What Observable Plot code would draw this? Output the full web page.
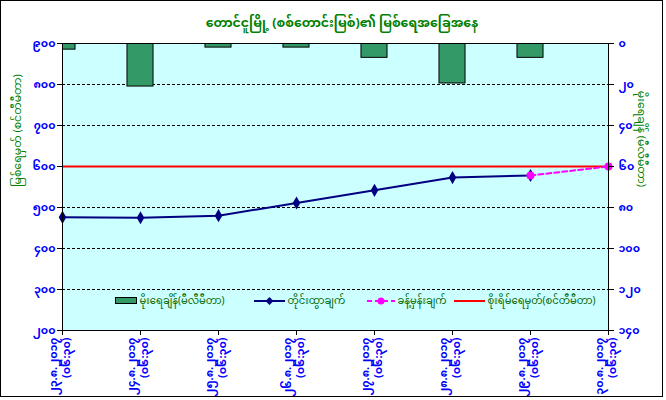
<!DOCTYPE html>
<html><head><meta charset="utf-8">
<script src="https://cdn.jsdelivr.net/npm/d3@7"></script>
<script src="https://cdn.jsdelivr.net/npm/@observablehq/plot@0.6"></script>
<style>
body{margin:0;background:#fff;}
#wrap{position:relative;width:666px;height:400px;overflow:hidden;font-family:"Noto Sans Myanmar","Padauk","Myanmar Text","Noto Sans",sans-serif;}
#wrap svg{position:absolute;left:0;top:0;}
#border{position:absolute;left:0;top:0;width:661px;height:395px;border:1px solid #000;pointer-events:none;}
#title{position:absolute;top:10px;left:0;width:684px;text-align:center;color:#008000;font-weight:bold;font-size:12.5px;}
.lg{position:absolute;top:294px;font-size:10px;color:#006600;white-space:nowrap;line-height:16px;}
.lg svg{position:static !important;vertical-align:middle;}
</style></head>
<body>
<div id="wrap"><div id="border"></div></div>
<script>
const dateLabels = ["၂၃.၈.၂၀၁၇","၂၄.၈.၂၀၁၇","၂၅.၈.၂၀၁၇","၂၆.၈.၂၀၁၇","၂၇.၈.၂၀၁၇","၂၈.၈.၂၀၁၇","၂၉.၈.၂၀၁၇","၃၀.၈.၂၀၁၇"];
const timeLabels = ["(၀၆:၃၀)","(၀၆:၃၀)","(၀၆:၃၀)","(၀၆:၃၀)","(၀၆:၃၀)","(၀၆:၃၀)","(၀၆:၃၀)","(၀၆:၃၀)"];
const rainfall = [3, 21, 2, 2, 7, 19.5, 7];
const observed = [476, 475, 480, 511, 542, 573, 578];
const forecastIdx = [6, 7];
const forecast = [578, 600];
const dangerLevel = 600;
const levelTicks = [200, 300, 400, 500, 600, 700, 800, 900];
const levelTickLabels = ["၂၀၀","၃၀၀","၄၀၀","၅၀၀","၆၀၀","၇၀၀","၈၀၀","၉၀၀"];
const rainTickLabels = ["၁၄၀","၁၂၀","၁၀၀","၈၀","၆၀","၄၀","၂၀","၀"];
const titleText = "တောင်ငူမြို့ (စစ်တောင်းမြစ်)၏ မြစ်ရေအခြေအနေ";
const leftTitle = "မြစ်ရေမှတ် (စင်တီမီတာ)";
const rightTitle = "မိုးရေချိန် (မီလီမီတာ)";
const legendLabels = ["မိုးရေချိန်(မီလီမီတာ)","တိုင်းထွာချက်","ခန့်မှန်းချက်","စိုးရိမ်ရေမှတ်(စင်တီမီတာ)"];

const font = '"Noto Sans Myanmar","Padauk","Myanmar Text","Noto Sans",sans-serif';
const lvTop = 900, lvBottom = 200, rainMax = 140;
const rainToLevel = r => lvTop - r * (lvTop - lvBottom) / rainMax;

const obsData = observed.map((v, i) => ({i, v}));
const fcData = forecast.map((v, k) => ({i: forecastIdx[k], v}));
const rainData = rainfall.map((r, i) => ({i, r}));
const idx = d3.range(dateLabels.length);
const half = 0.167;

const chart = Plot.plot({
  width: 666, height: 400,
  marginLeft: 62, marginRight: 58, marginTop: 43, marginBottom: 70,
  style: {background: "transparent", fontFamily: font},
  x: {type: "linear", domain: [0, dateLabels.length - 1]},
  y: {domain: [lvBottom, lvTop]},
  marks: [
    Plot.frame({fill: "#ccffff", stroke: null}),
    Plot.ruleY(levelTicks.filter(v => v > lvBottom && v < lvTop), {stroke: "#000", strokeDasharray: "3,2", strokeWidth: 1}),
    Plot.rectY(rainData, {x1: d => d.i - half, x2: d => d.i + half, y1: lvTop, y2: d => rainToLevel(d.r), fill: "#339966", stroke: "#000", strokeWidth: 1, clip: true}),
    Plot.ruleY([dangerLevel], {stroke: "#ff0000", strokeWidth: 2}),
    Plot.line(obsData, {x: "i", y: "v", stroke: "#000080", strokeWidth: 2}),
    Plot.dot(obsData, {x: "i", y: "v", symbol: "diamond", fill: "#000080", r: 4}),
    Plot.line(fcData, {x: "i", y: "v", stroke: "#ff00ff", strokeWidth: 2, strokeDasharray: "5,3"}),
    Plot.dot(fcData, {x: "i", y: "v", fill: "#ff00ff", r: 4, clip: false}),
    Plot.frame({stroke: "#000", strokeWidth: 1}),
    Plot.axisY({anchor: "left", ticks: levelTicks, tickFormat: (d) => levelTickLabels[levelTicks.indexOf(d)], tickSize: 5, tickPadding: 2, stroke: "#000", fill: "#0000ff", fontSize: 11, fontWeight: "bold", label: null}),
    Plot.axisY({anchor: "right", ticks: levelTicks, tickFormat: (d) => rainTickLabels[levelTicks.indexOf(d)], tickSize: 5, tickPadding: 5, stroke: "#000", fill: "#0000ff", fontSize: 11, fontWeight: "bold", label: null}),
    Plot.axisX({ticks: idx, tickFormat: () => "", tickSize: 5, stroke: "#000", label: null}),
    Plot.text(idx, {x: d => d, text: i => dateLabels[i], frameAnchor: "bottom", dx: -6, dy: 7, rotate: -90, textAnchor: "end", fill: "#0000ff", fontSize: 11, fontWeight: "bold"}),
    Plot.text(idx, {x: d => d, text: i => timeLabels[i], frameAnchor: "bottom", dx: 7, dy: 7, rotate: -90, textAnchor: "end", fill: "#0000ff", fontSize: 11, fontWeight: "bold"}),
    Plot.text([leftTitle], {frameAnchor: "left", dx: -45, rotate: -90, fill: "#008000", fontSize: 11}),
    Plot.text([rightTitle], {frameAnchor: "right", dx: 33, rotate: 90, fill: "#008000", fontSize: 11})
  ]
});
const wrap = document.getElementById("wrap");
wrap.insertBefore(chart, wrap.firstChild);

const t = document.createElement("div");
t.id = "title"; t.textContent = titleText; wrap.appendChild(t);

const sw = [
  '<svg width="22" height="8"><rect x="0.5" y="0.5" width="21" height="6" fill="#339966" stroke="#000"/></svg>',
  '<svg width="31" height="10"><line x1="0" y1="5" x2="31" y2="5" stroke="#000080" stroke-width="2"/><path d="M15.5 1 L19.5 5 L15.5 9 L11.5 5Z" fill="#000080"/></svg>',
  '<svg width="28" height="10"><line x1="0" y1="5" x2="28" y2="5" stroke="#ff00ff" stroke-width="2" stroke-dasharray="5,3"/><circle cx="14" cy="5" r="3.5" fill="#ff00ff"/></svg>',
  '<svg width="31" height="10"><line x1="0" y1="5" x2="31" y2="5" stroke="#ff0000" stroke-width="2"/></svg>'
];
const lefts = [115, 254, 367, 454];
legendLabels.forEach((lab, k) => {
  const d = document.createElement("div");
  d.className = "lg"; d.style.left = lefts[k] + "px";
  d.innerHTML = sw[k] + " <span>" + lab + "</span>";
  wrap.appendChild(d);
});
</script>
</body></html>
